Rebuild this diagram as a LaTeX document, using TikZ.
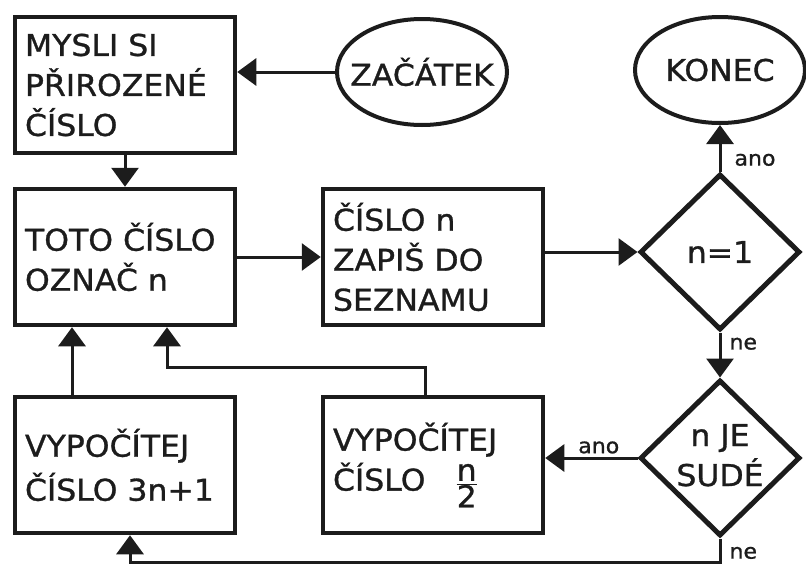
\documentclass[tikz,border=0pt]{standalone}
\usepackage{fontspec}
\setmainfont{DejaVu Sans}[FakeBold=1, FakeStretch=1.05]
\usepackage{tikz}
\usetikzlibrary{
  arrows.meta,
  shapes.geometric,
  positioning,
  calc
}
\definecolor{fcInk}{HTML}{1C1C1C}
\tikzset{
  fcnode/.style={
    draw=fcInk, text=fcInk, line width=4.5pt,
    font=\fontsize{30}{40}\selectfont
  },
  fcbox/.style={fcnode, rectangle, minimum width=220pt, minimum height=136pt,
    inner xsep=10pt, text width=200pt, align=left},
  fcterm/.style={fcnode, ellipse, line width=4pt, minimum width=170pt,
    minimum height=106pt, inner sep=0pt},
  fcdecide/.style={fcnode, diamond, line width=5pt, minimum width=160pt,
    minimum height=156pt, inner sep=0pt},
  flow/.style={-{Triangle[length=19pt, width=27pt]}, line width=3pt, fcInk},
  tag/.style={font=\fontsize{21}{24}\selectfont, text=fcInk, inner sep=1pt}
}

\begin{document}
\begin{tikzpicture}[x=1pt, y=-1pt]
  \useasboundingbox (0,0) rectangle (806,568);
  \node[fcbox] (think) at (125,85) {MYSLI SI\\PŘIROZENÉ\\ČÍSLO};
  \node[fcterm] (start) at (422,72) {\makebox[0pt]{ZAČÁTEK}};
  \node[fcterm] (stop) at (720,70) {\makebox[0pt]{KONEC}};
  \node[fcbox] (name) at (125,257) {TOTO ČÍSLO\\OZNAČ n};
  \node[fcbox] (write) at (433,257) {ČÍSLO n\\ZAPIŠ DO\\SEZNAMU};
  \node[fcdecide] (isone) at (720,252) {\makebox[0pt]{n=1}};
  \node[fcbox] (triple) at (125,465) {VYPOČÍTEJ\\[4pt]ČÍSLO 3n+1};
  \node[fcbox] (half) at (433,465) {VYPOČÍTEJ\\ČÍSLO\quad$\frac{\hbox{n}}{\hbox{2}}$};
  \node[fcdecide] (iseven) at (720,458) {\makebox[0pt]{\begin{tabular}{@{}c@{}}n JE\\SUDÉ\end{tabular}}};

  \draw[flow] (start.west) -- (start.west -| think.east);
  \draw[flow] (think) -- (name);
  \draw[flow] (name) -- (write);
  \draw[flow] (write.east |- isone.west) -- (isone.west);
  \draw[flow] (isone.north) -- node[tag, right=12pt, pos=0.25] {ano} (stop.south);
  \draw[flow] (isone.south) -- node[tag, right=7pt, pos=0.25] {ne} (iseven.north);
  \draw[flow] (iseven.west) -- node[tag, above=2pt, pos=0.42] {ano} (iseven.west -| half.east);
  \draw[flow] (iseven.south) -- ++(0,24) node[tag, right=7pt, pos=0.6] {ne} -| ([xshift=5pt]triple.south);
  \draw[flow] ([xshift=-53pt]triple.north) -- ([xshift=-53pt]name.south);
  \draw[flow] ([xshift=-8pt]half.north) -- ++(0,-27) -| ([xshift=42pt]name.south);
\end{tikzpicture}
\end{document}
